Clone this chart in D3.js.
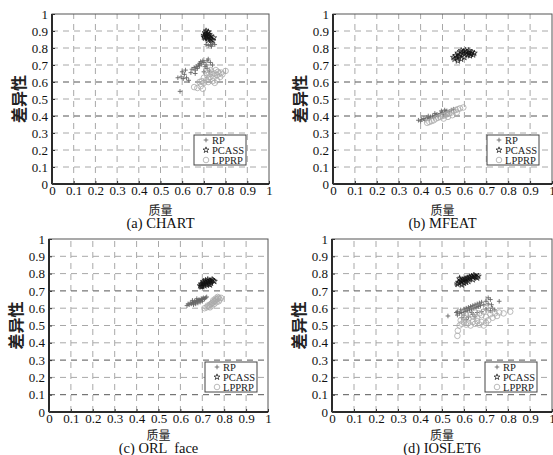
<!DOCTYPE html>
<html>
<head>
<meta charset="utf-8">
<script src="https://cdn.jsdelivr.net/npm/d3@7"></script>
<style>
  body { margin: 0; background: #fff; }
  svg { display: block; }
</style>
</head>
<body>
<svg id="chart" width="553" height="455"></svg>
<script>
// tick values shared by both axes
const tickValues = [0, 0.1, 0.2, 0.3, 0.4, 0.5, 0.6, 0.7, 0.8, 0.9, 1];
const tickLabels = ["0", "0.1", "0.2", "0.3", "0.4", "0.5", "0.6", "0.7", "0.8", "0.9", "1"];
const seriesNames = ["RP", "PCASS", "LPPRP"];

// (a) CHART  [quality, diversity]
const chartRP = [[0.59,0.545],[0.58,0.625],[0.595,0.63],[0.605,0.62],[0.61,0.645],[0.60,0.66],[0.615,0.67],[0.62,0.625],[0.63,0.61],[0.64,0.655],[0.645,0.675],[0.655,0.685],[0.66,0.67],[0.665,0.69],[0.67,0.68],[0.675,0.70],[0.68,0.71],[0.685,0.72],[0.69,0.705],[0.695,0.725],[0.70,0.715],[0.705,0.69],[0.71,0.70],[0.715,0.725],[0.72,0.735],[0.73,0.715],[0.74,0.70],[0.70,0.66],[0.715,0.68],[0.725,0.665],[0.71,0.82],[0.72,0.815],[0.73,0.82],[0.74,0.825],[0.75,0.82],[0.735,0.81],[0.68,0.695],[0.66,0.65]];
const chartPCASS = [[0.705,0.89],[0.71,0.90],[0.715,0.885],[0.72,0.895],[0.70,0.875],[0.71,0.87],[0.72,0.87],[0.725,0.865],[0.705,0.86],[0.715,0.855],[0.73,0.855],[0.735,0.85],[0.72,0.845],[0.74,0.845],[0.71,0.88],[0.725,0.88],[0.73,0.87],[0.70,0.865],[0.745,0.86],[0.715,0.865]];
const chartLPPRP = [[0.655,0.57],[0.67,0.565],[0.685,0.575],[0.695,0.56],[0.68,0.60],[0.69,0.605],[0.70,0.595],[0.71,0.61],[0.72,0.62],[0.70,0.625],[0.715,0.64],[0.73,0.63],[0.725,0.65],[0.74,0.645],[0.735,0.66],[0.745,0.625],[0.75,0.65],[0.755,0.67],[0.76,0.64],[0.765,0.66],[0.77,0.65],[0.78,0.655],[0.775,0.63],[0.76,0.61],[0.75,0.595],[0.74,0.605],[0.80,0.665],[0.785,0.645],[0.72,0.60],[0.73,0.67],[0.71,0.655]];

// (b) MFEAT
const mfeatRP = [[0.39,0.375],[0.40,0.37],[0.405,0.38],[0.415,0.385],[0.42,0.375],[0.43,0.39],[0.44,0.385],[0.445,0.395],[0.455,0.40],[0.46,0.39],[0.47,0.405],[0.475,0.41],[0.48,0.40],[0.49,0.415],[0.50,0.42],[0.505,0.41],[0.515,0.425],[0.52,0.43],[0.53,0.425],[0.54,0.435],[0.55,0.44],[0.435,0.40],[0.465,0.415],[0.495,0.43],[0.51,0.435],[0.57,0.76],[0.62,0.765]];
const mfeatPCASS = [[0.55,0.745],[0.56,0.755],[0.555,0.735],[0.565,0.74],[0.57,0.725],[0.575,0.75],[0.58,0.76],[0.585,0.735],[0.59,0.77],[0.595,0.78],[0.60,0.765],[0.605,0.785],[0.61,0.775],[0.615,0.76],[0.62,0.77],[0.625,0.755],[0.63,0.765],[0.635,0.775],[0.64,0.76],[0.645,0.77],[0.60,0.745],[0.57,0.77],[0.585,0.785],[0.62,0.785]];
const mfeatLPPRP = [[0.43,0.36],[0.44,0.365],[0.45,0.37],[0.46,0.375],[0.47,0.385],[0.48,0.39],[0.49,0.395],[0.50,0.40],[0.51,0.405],[0.52,0.41],[0.53,0.415],[0.54,0.42],[0.55,0.43],[0.56,0.435],[0.57,0.44],[0.58,0.445],[0.595,0.45],[0.505,0.385],[0.525,0.395],[0.545,0.405],[0.565,0.42]];

// (c) ORL face
const orlRP = [[0.63,0.615],[0.635,0.625],[0.64,0.62],[0.645,0.63],[0.65,0.625],[0.655,0.635],[0.66,0.63],[0.665,0.64],[0.67,0.635],[0.675,0.645],[0.68,0.64],[0.685,0.65],[0.69,0.645],[0.695,0.655],[0.70,0.65],[0.705,0.66],[0.71,0.655],[0.715,0.66],[0.66,0.62],[0.67,0.625],[0.68,0.63],[0.69,0.635],[0.70,0.64],[0.675,0.655],[0.655,0.645],[0.72,0.665]];
const orlPCASS = [[0.69,0.73],[0.695,0.74],[0.70,0.735],[0.705,0.745],[0.71,0.74],[0.715,0.75],[0.72,0.745],[0.725,0.755],[0.73,0.75],[0.735,0.76],[0.74,0.755],[0.745,0.765],[0.75,0.76],[0.70,0.725],[0.71,0.73],[0.72,0.735],[0.73,0.74],[0.74,0.745],[0.755,0.755],[0.715,0.76],[0.725,0.765],[0.705,0.755],[0.695,0.725],[0.735,0.735]];
const orlLPPRP = [[0.71,0.60],[0.72,0.605],[0.725,0.615],[0.73,0.61],[0.735,0.62],[0.74,0.625],[0.745,0.63],[0.75,0.635],[0.755,0.64],[0.76,0.645],[0.765,0.65],[0.77,0.655],[0.775,0.66],[0.78,0.65],[0.775,0.64],[0.765,0.635],[0.755,0.625],[0.745,0.615],[0.735,0.605],[0.785,0.66],[0.77,0.665],[0.76,0.655],[0.75,0.645]];

// (d) IOSLET6
const iosletRP = [[0.527,0.555],[0.76,0.64],[0.565,0.575],[0.57,0.58],[0.58,0.57],[0.585,0.59],[0.59,0.575],[0.60,0.595],[0.605,0.58],[0.61,0.60],[0.615,0.585],[0.62,0.605],[0.625,0.59],[0.63,0.61],[0.635,0.595],[0.64,0.615],[0.645,0.60],[0.65,0.62],[0.655,0.605],[0.66,0.625],[0.665,0.61],[0.67,0.63],[0.675,0.615],[0.68,0.635],[0.69,0.62],[0.70,0.64],[0.71,0.625],[0.72,0.65],[0.725,0.62],[0.73,0.60],[0.71,0.66],[0.60,0.56],[0.62,0.55],[0.64,0.565],[0.66,0.575],[0.68,0.58],[0.70,0.595],[0.72,0.585],[0.74,0.59],[0.59,0.545],[0.61,0.535],[0.65,0.55],[0.57,0.56],[0.635,0.575],[0.565,0.735],[0.58,0.78]];
const iosletPCASS = [[0.57,0.74],[0.575,0.75],[0.58,0.745],[0.585,0.76],[0.59,0.755],[0.595,0.765],[0.60,0.76],[0.605,0.77],[0.61,0.765],[0.615,0.775],[0.62,0.77],[0.625,0.78],[0.63,0.775],[0.635,0.785],[0.64,0.78],[0.645,0.79],[0.65,0.785],[0.655,0.78],[0.66,0.775],[0.665,0.785],[0.59,0.735],[0.60,0.745],[0.61,0.75],[0.62,0.755],[0.58,0.77],[0.64,0.765]];
const iosletLPPRP = [[0.57,0.44],[0.572,0.47],[0.58,0.50],[0.59,0.51],[0.60,0.52],[0.61,0.505],[0.62,0.515],[0.63,0.50],[0.64,0.52],[0.65,0.51],[0.66,0.525],[0.67,0.505],[0.68,0.52],[0.69,0.50],[0.70,0.515],[0.60,0.545],[0.62,0.54],[0.64,0.555],[0.66,0.545],[0.68,0.56],[0.70,0.55],[0.72,0.565],[0.74,0.57],[0.76,0.575],[0.78,0.57],[0.81,0.58],[0.73,0.545],[0.71,0.53],[0.75,0.555],[0.69,0.58],[0.67,0.57],[0.65,0.575],[0.63,0.565],[0.61,0.56],[0.585,0.53],[0.72,0.59],[0.70,0.60]];

// panel layout (pixels)
const panels = [
  { caption: "(a) CHART",     series: [chartRP, chartPCASS, chartLPPRP],    left: 52,  top: 14,  w: 217, h: 170, legend: [194, 135], darkGrid: [0.4, 0.6],      xlab: 209, cap: 223 },
  { caption: "(b) MFEAT",     series: [mfeatRP, mfeatPCASS, mfeatLPPRP],    left: 333, top: 14,  w: 219, h: 170, legend: [487, 135], darkGrid: [0.4, 0.6],      xlab: 209, cap: 223 },
  { caption: "(c) ORL  face", series: [orlRP, orlPCASS, orlLPPRP],          left: 49,  top: 239, w: 219, h: 173, legend: [205, 362], darkGrid: [0.1, 0.3, 0.7], xlab: 434, cap: 448 },
  { caption: "(d) IOSLET6",   series: [iosletRP, iosletPCASS, iosletLPPRP], left: 332, top: 239, w: 220, h: 173, legend: [485, 362], darkGrid: [0.1, 0.3, 0.7], xlab: 434, cap: 448 }
];

const serif = "'Liberation Serif', 'DejaVu Serif', serif";
const cjk = "'Noto Sans CJK SC', sans-serif";
const seriesColor = ["#666", "#111", "#aaa"];

const svg = d3.select("#chart");

// one marker per series: plus, star, circle
function drawMarker(sel, i) {
  if (i === 0) {
    sel.append("path")
      .attr("d", "M-2.3,0H2.3M0,-2.3V2.3")
      .attr("stroke", seriesColor[0])
      .attr("stroke-width", 0.9)
      .attr("fill", "none");
  } else if (i === 1) {
    sel.append("path")
      .attr("d", d3.symbol(d3.symbolStar, 11)())
      .attr("stroke", seriesColor[1])
      .attr("stroke-width", 0.7)
      .attr("fill", "none");
  } else {
    sel.append("circle")
      .attr("r", 2.8)
      .attr("stroke", seriesColor[2])
      .attr("stroke-width", 0.8)
      .attr("fill", "none");
  }
}

panels.forEach((p) => {
  const x = d3.scaleLinear().domain([0, 1]).range([p.left, p.left + p.w]);
  const y = d3.scaleLinear().domain([0, 1]).range([p.top + p.h, p.top]);
  const g = svg.append("g");

  // dashed grid
  const inner = tickValues.slice(1, -1);
  g.selectAll("line.vg").data(inner).enter().append("line")
    .attr("x1", (d) => x(d)).attr("x2", (d) => x(d))
    .attr("y1", y(0)).attr("y2", y(1))
    .attr("stroke", "#a8a8a8").attr("stroke-width", 1)
    .attr("stroke-dasharray", "6,5");
  g.selectAll("line.hg").data(inner).enter().append("line")
    .attr("x1", x(0)).attr("x2", x(1))
    .attr("y1", (d) => y(d)).attr("y2", (d) => y(d))
    .attr("stroke", (d) => p.darkGrid.some((v) => Math.abs(v - d) < 1e-6) ? "#555" : "#a8a8a8")
    .attr("stroke-width", 1)
    .attr("stroke-dasharray", "6,5");

  // points
  p.series.forEach((pts, i) => {
    g.append("g").selectAll("g").data(pts).enter().append("g")
      .attr("transform", (d) => `translate(${x(d[0])},${y(d[1])})`)
      .each(function () { drawMarker(d3.select(this), i); });
  });

  // frame: top/right light, left/bottom heavy
  g.append("rect")
    .attr("x", x(0)).attr("y", y(1))
    .attr("width", p.w).attr("height", p.h)
    .attr("fill", "none").attr("stroke", "#555").attr("stroke-width", 1);
  g.append("line").attr("x1", x(0)).attr("x2", x(0)).attr("y1", y(0)).attr("y2", y(1))
    .attr("stroke", "#000").attr("stroke-width", 1.5);
  g.append("line").attr("x1", x(0)).attr("x2", x(1)).attr("y1", y(0)).attr("y2", y(0))
    .attr("stroke", "#000").attr("stroke-width", 1.5);

  // axes (inward ticks, labels outside)
  const xAxis = d3.axisBottom(x).tickValues(tickValues)
    .tickFormat((d, i) => tickLabels[i]).tickSize(-3).tickPadding(2);
  const yAxis = d3.axisLeft(y).tickValues(tickValues)
    .tickFormat((d, i) => tickLabels[i]).tickSize(-3).tickPadding(4);
  const gx = g.append("g").attr("transform", `translate(0,${y(0)})`).call(xAxis);
  const gy = g.append("g").attr("transform", `translate(${x(0)},0)`).call(yAxis);
  [gx, gy].forEach((a) => {
    a.select(".domain").remove();
    a.selectAll("line").attr("stroke", "#333");
    a.selectAll("text").attr("font-family", serif).attr("font-size", 13).attr("fill", "#111");
  });

  // axis titles and caption
  g.append("text")
    .attr("transform", `translate(${x(0) - 34},${(y(0) + y(1)) / 2}) rotate(-90)`)
    .attr("text-anchor", "middle").attr("dominant-baseline", "central")
    .attr("font-family", cjk).attr("font-weight", 700).attr("font-size", 16)
    .attr("fill", "#222").text("差异性");
  g.append("text")
    .attr("x", (x(0) + x(1)) / 2).attr("y", p.xlab)
    .attr("text-anchor", "middle").attr("dominant-baseline", "central")
    .attr("font-family", cjk).attr("font-size", 12).attr("fill", "#222").text("质量");
  g.append("text")
    .attr("x", (x(0) + x(1)) / 2).attr("y", p.cap)
    .attr("text-anchor", "middle").attr("dominant-baseline", "central")
    .attr("font-family", serif).attr("font-size", 14.5).attr("fill", "#111")
    .style("white-space", "pre").text(p.caption);

  // legend box
  const lg = g.append("g").attr("transform", `translate(${p.legend[0]},${p.legend[1]})`);
  lg.append("rect").attr("width", 52).attr("height", 30)
    .attr("fill", "#fff").attr("stroke", "#444").attr("stroke-width", 1);
  seriesNames.forEach((name, i) => {
    const row = lg.append("g").attr("transform", `translate(12,${5 + i * 10})`);
    drawMarker(row, i);
    row.append("text").attr("x", 6).attr("y", 0)
      .attr("dominant-baseline", "central")
      .attr("font-family", serif).attr("font-size", 10.5).attr("fill", "#222")
      .text(name);
  });
});
</script>
</body>
</html>
